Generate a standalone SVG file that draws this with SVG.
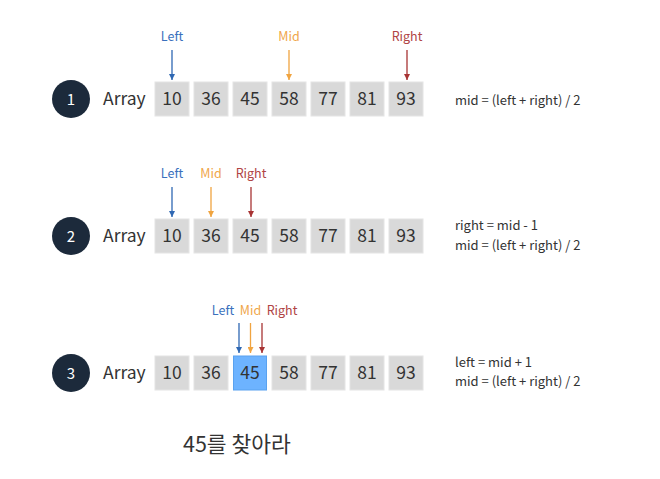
<svg xmlns="http://www.w3.org/2000/svg" width="660" height="479" viewBox="0 0 660 479">
<style>
text{font-family:"Noto Sans CJK KR","Noto Sans",sans-serif;fill:#333}
.num{font-size:17.5px;text-anchor:middle}
.arr{font-size:17.5px}
.step{font-size:15px;fill:#fff;text-anchor:middle}
.lbl{font-size:12.5px;text-anchor:middle}
.f{font-size:13px}
.box{fill:#d9d9d9;stroke:#e4e4e4;stroke-width:1}
.hl{fill:#6db3ff;stroke:#5aa2ef;stroke-width:1}
.circ{fill:#1c2a3b}
.cl{fill:#3a70bd}.cm{fill:#f0a64a}.cr{fill:#b04444}
.al{stroke:#2f68b3;stroke-width:1.3}
.am{stroke:#f0a440;stroke-width:1.3}
.ar{stroke:#a83434;stroke-width:1.3}
</style>
<defs>
<marker id="hL" viewBox="0 0 6 6" refX="3" refY="6" markerWidth="6" markerHeight="6" markerUnits="userSpaceOnUse"><path d="M0,0L6,0L3,6Z" fill="#2f68b3"/></marker>
<marker id="hM" viewBox="0 0 6 6" refX="3" refY="6" markerWidth="6" markerHeight="6" markerUnits="userSpaceOnUse"><path d="M0,0L6,0L3,6Z" fill="#f0a440"/></marker>
<marker id="hR" viewBox="0 0 6 6" refX="3" refY="6" markerWidth="6" markerHeight="6" markerUnits="userSpaceOnUse"><path d="M0,0L6,0L3,6Z" fill="#a83434"/></marker>
</defs>
<rect width="660" height="479" fill="#fff"/>

<g id="row1">
<circle class="circ" cx="71" cy="99" r="19"/><text class="step" x="71" y="104.5">1</text>
<text class="arr" x="103" y="105">Array</text>
<g id="r1cells">
<rect class="box" x="155" y="82" width="34" height="34"/><text class="num" x="172" y="105">10</text>
<rect class="box" x="194" y="82" width="34" height="34"/><text class="num" x="211" y="105">36</text>
<rect class="box" x="233" y="82" width="34" height="34"/><text class="num" x="250" y="105">45</text>
<rect class="box" x="272" y="82" width="34" height="34"/><text class="num" x="289" y="105">58</text>
<rect class="box" x="311" y="82" width="34" height="34"/><text class="num" x="328" y="105">77</text>
<rect class="box" x="350" y="82" width="34" height="34"/><text class="num" x="367" y="105">81</text>
<rect class="box" x="389" y="82" width="34" height="34"/><text class="num" x="406" y="105">93</text>
</g>
<text class="lbl cl" x="172" y="41">Left</text>
<text class="lbl cm" x="289" y="41">Mid</text>
<text class="lbl cr" x="407" y="41">Right</text>
<text class="f" x="455" y="105">mid = (left + right) / 2</text>
</g>

<g id="row2">
<circle class="circ" cx="71" cy="236" r="19"/><text class="step" x="71" y="241.5">2</text>
<text class="arr" x="103" y="242">Array</text>
<g id="r2cells">
<rect class="box" x="155" y="219" width="34" height="34"/><text class="num" x="172" y="242">10</text>
<rect class="box" x="194" y="219" width="34" height="34"/><text class="num" x="211" y="242">36</text>
<rect class="box" x="233" y="219" width="34" height="34"/><text class="num" x="250" y="242">45</text>
<rect class="box" x="272" y="219" width="34" height="34"/><text class="num" x="289" y="242">58</text>
<rect class="box" x="311" y="219" width="34" height="34"/><text class="num" x="328" y="242">77</text>
<rect class="box" x="350" y="219" width="34" height="34"/><text class="num" x="367" y="242">81</text>
<rect class="box" x="389" y="219" width="34" height="34"/><text class="num" x="406" y="242">93</text>
</g>
<text class="lbl cl" x="172" y="178">Left</text>
<text class="lbl cm" x="211" y="178">Mid</text>
<text class="lbl cr" x="251" y="178">Right</text>
<text class="f" x="455" y="230">right = mid - 1</text>
<text class="f" x="455" y="250">mid = (left + right) / 2</text>
</g>

<g id="row3">
<circle class="circ" cx="71" cy="373" r="19"/><text class="step" x="71" y="378.5">3</text>
<text class="arr" x="103" y="379">Array</text>
<g id="r3cells">
<rect class="box" x="155" y="356" width="34" height="34"/><text class="num" x="172" y="379">10</text>
<rect class="box" x="194" y="356" width="34" height="34"/><text class="num" x="211" y="379">36</text>
<rect class="hl" x="233.5" y="356" width="33" height="34"/><text class="num" x="250" y="379">45</text>
<rect class="box" x="272" y="356" width="34" height="34"/><text class="num" x="289" y="379">58</text>
<rect class="box" x="311" y="356" width="34" height="34"/><text class="num" x="328" y="379">77</text>
<rect class="box" x="350" y="356" width="34" height="34"/><text class="num" x="367" y="379">81</text>
<rect class="box" x="389" y="356" width="34" height="34"/><text class="num" x="406" y="379">93</text>
</g>
<text class="lbl cl" x="223" y="315">Left</text>
<text class="lbl cm" x="250.5" y="315">Mid</text>
<text class="lbl cr" x="282" y="315">Right</text>
<text class="f" x="455" y="367">left = mid + 1</text>
<text class="f" x="455" y="386">mid = (left + right) / 2</text>
</g>

<g id="connectors" fill="none">
<line class="al" x1="172" y1="50" x2="172" y2="80" marker-end="url(#hL)"/>
<line class="am" x1="289" y1="50" x2="289" y2="80" marker-end="url(#hM)"/>
<line class="ar" x1="407" y1="50" x2="407" y2="80" marker-end="url(#hR)"/>
<line class="al" x1="172" y1="187" x2="172" y2="217" marker-end="url(#hL)"/>
<line class="am" x1="211" y1="187" x2="211" y2="217" marker-end="url(#hM)"/>
<line class="ar" x1="251" y1="187" x2="251" y2="217" marker-end="url(#hR)"/>
<line class="al" x1="239" y1="323" x2="239" y2="353" marker-end="url(#hL)"/>
<line class="am" x1="250.5" y1="323" x2="250.5" y2="353" marker-end="url(#hM)"/>
<line class="ar" x1="262" y1="323" x2="262" y2="353" marker-end="url(#hR)"/>
</g>

<text x="183" y="452" style="font-size:21.5px">45를 찾아라</text>
</svg>
